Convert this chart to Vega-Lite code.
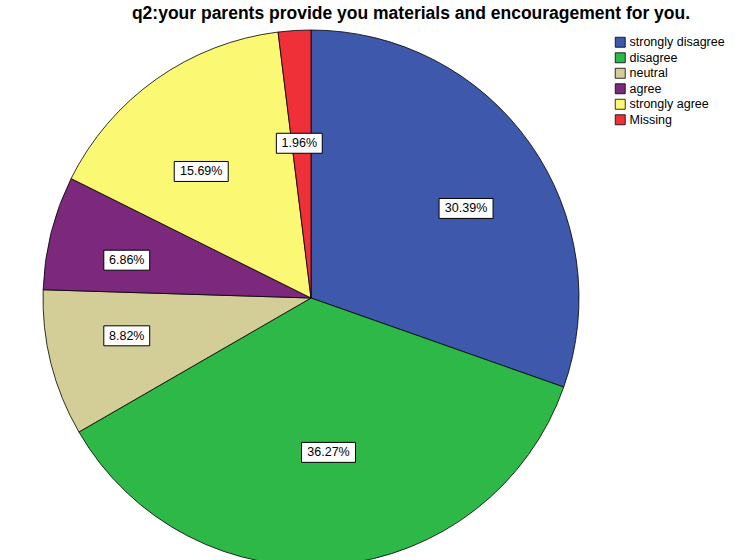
{
  "$schema": "https://vega.github.io/schema/vega-lite/v6.json",
  "autosize": "none",
  "width": 622,
  "height": 524,
  "padding": {"top": 36, "left": 0, "right": 122, "bottom": 0},
  "background": "white",
  "config": {"view": {"stroke": null}, "font": "Liberation Sans"},
  "title": {
    "text": "q2:your parents provide you materials and encouragement for you.",
    "anchor": "middle",
    "frame": "group",
    "dx": 100,
    "offset": 6,
    "fontSize": 17.5,
    "fontWeight": "bold",
    "color": "#000",
    "font": "Liberation Sans"
  },
  "data": {
    "values": [
      {"response": "strongly disagree", "count": 31, "pct": "30.39%", "ord": 1},
      {"response": "disagree", "count": 37, "pct": "36.27%", "ord": 2},
      {"response": "neutral", "count": 9, "pct": "8.82%", "ord": 3},
      {"response": "agree", "count": 7, "pct": "6.86%", "ord": 4},
      {"response": "strongly agree", "count": 16, "pct": "15.69%", "ord": 5},
      {"response": "Missing", "count": 2, "pct": "1.96%", "ord": 6}
    ]
  },
  "layer": [
    {
      "mark": {"type": "arc", "outerRadius": 268, "stroke": "#000", "strokeWidth": 0.8},
      "encoding": {
        "theta": {"field": "count", "type": "quantitative", "stack": true},
        "order": {"field": "ord", "type": "quantitative"},
        "color": {
          "field": "response",
          "type": "nominal",
          "sort": ["strongly disagree", "disagree", "neutral", "agree", "strongly agree", "Missing"],
          "scale": {
            "domain": ["strongly disagree", "disagree", "neutral", "agree", "strongly agree", "Missing"],
            "range": ["#3E58AC", "#2EB848", "#D3CE97", "#7B287D", "#FBF873", "#EF3038"]
          },
          "legend": {
            "title": null,
            "orient": "none",
            "legendX": 614,
            "legendY": 0,
            "symbolType": "square",
            "symbolSize": 100,
            "symbolStrokeColor": "#000",
            "symbolStrokeWidth": 0.8,
            "labelFontSize": 12.5,
            "labelColor": "#000",
            "labelFont": "Liberation Sans",
            "rowPadding": 1.5,
            "labelOffset": 3
          }
        }
      }
    },
    {
      "transform": [
        {"joinaggregate": [{"op": "sum", "field": "count", "as": "total"}]},
        {"window": [{"op": "sum", "field": "count", "as": "cum"}], "sort": [{"field": "ord"}], "frame": [null, 0]},
        {"calculate": "2*PI*(datum.cum - datum.count/2)/datum.total", "as": "mid"},
        {"calculate": "sin(datum.mid)", "as": "lx"},
        {"calculate": "cos(datum.mid)", "as": "ly"},
        {"calculate": "length(datum.pct)", "as": "nch"}
      ],
      "encoding": {
        "x": {"field": "lx", "type": "quantitative", "scale": {"domain": [-1.637, 1.637], "nice": false, "zero": false}, "axis": null},
        "y": {"field": "ly", "type": "quantitative", "scale": {"domain": [-1.69, 1.69], "nice": false, "zero": false}, "axis": null}
      },
      "layer": [
        {
          "mark": {"type": "point", "filled": true, "fill": "white", "stroke": "#000", "strokeWidth": 1, "opacity": 1, "size": 2916},
          "encoding": {
            "shape": {
              "field": "nch",
              "type": "nominal",
              "scale": {"domain": [5, 6], "range": ["M-0.85,-0.37H0.85V0.37H-0.85Z", "M-1,-0.37H1V0.37H-1Z"]},
              "legend": null
            }
          }
        },
        {
          "mark": {"type": "text", "fontSize": 12.5, "color": "#000", "font": "Liberation Sans", "baseline": "middle", "align": "center"},
          "encoding": {"text": {"field": "pct"}}
        }
      ]
    }
  ]
}
